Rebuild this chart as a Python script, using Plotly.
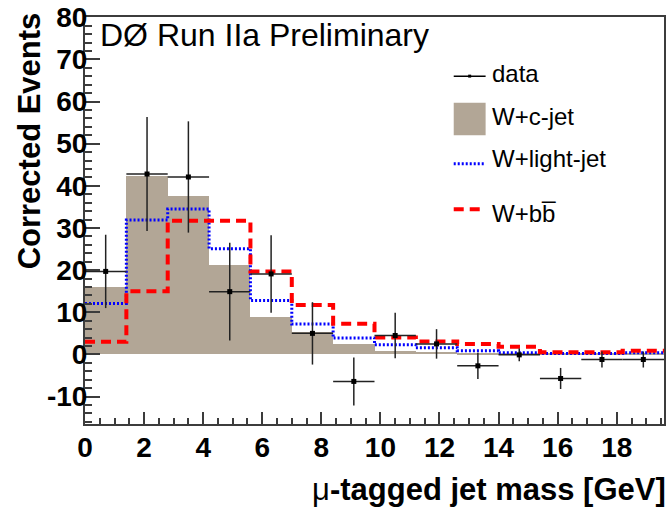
import plotly.graph_objects as go

# ---- data ----
bin_width = 1.4
bin_edges = [0.0, 1.4, 2.8, 4.2, 5.6, 7.0, 8.4, 9.8, 11.2, 12.6, 14.0, 15.4, 16.8, 18.2, 19.6]
bin_centers = [0.7, 2.1, 3.5, 4.9, 6.3, 7.7, 9.1, 10.5, 11.9, 13.3, 14.7, 16.1, 17.5, 18.9]

data_values = [19.7, 42.8, 42.1, 14.9, 19.1, 5.0, -6.4, 4.5, 2.5, -2.7, -0.1, -5.7, -1.2, -1.2]
data_errors = [8.7, 13.5, 13.2, 11.6, 9.2, 7.4, 5.7, 5.4, 3.5, 3.1, 1.5, 2.5, 1.9, 1.9]

wc_values = [16.0, 42.4, 37.6, 21.2, 8.8, 5.3, 2.5, 0.9, 0.6, 0.4, 0.2, 0.2, 0.2, 0.2]
wlight_values = [12.1, 31.9, 34.5, 25.1, 12.8, 7.2, 3.9, 2.3, 1.6, 0.9, 0.4, 0.2, 0.2, 0.4]
wbb_values = [3.0, 15.0, 31.7, 31.7, 19.7, 11.7, 7.3, 4.0, 3.1, 2.5, 1.8, 0.5, 0.5, 0.9]

x_tick_vals = [0, 2, 4, 6, 8, 10, 12, 14, 16, 18]
y_tick_vals = [-10, 0, 10, 20, 30, 40, 50, 60, 70, 80]

legend_labels = ["data", "W+c-jet", "W+light-jet", "W+bb\u0305"]

# ---- styles ----
FONT = "Liberation Sans, Arial, sans-serif"
TAN = "rgb(178,166,150)"
BLUE = "#0000ff"
RED = "#ff0000"
FRAME = "#3c3c3c"

W, H = 668, 518
ML, MR, MT, MB = 85, 2, 11, 94
PW, PH = W - ML - MR, H - MT - MB


def pxx(xp):
    return (xp - ML) / PW


def pxy(yp):
    return (H - MB - yp) / PH


fig = go.Figure()

# W+c-jet filled histogram
fig.add_trace(go.Bar(
    x=bin_centers, y=wc_values, width=bin_width,
    marker=dict(color=TAN, line=dict(width=0)),
    showlegend=False, hoverinfo="skip",
))

# W+light-jet dotted step
fig.add_trace(go.Scatter(
    x=bin_edges, y=wlight_values + [wlight_values[-1]],
    mode="lines", line=dict(color=BLUE, width=3, dash="2px,2px", shape="hv"),
    showlegend=False,
))

# W+bb dashed step
fig.add_trace(go.Scatter(
    x=bin_edges, y=wbb_values + [wbb_values[-1]],
    mode="lines", line=dict(color=RED, width=4, dash="10px,6px", shape="hv"),
    showlegend=False,
))

# data points
fig.add_trace(go.Scatter(
    x=bin_centers, y=data_values, mode="markers",
    marker=dict(symbol="square", size=5, color="black"),
    error_y=dict(type="data", array=data_errors, width=0, thickness=1.5, color="#222222"),
    error_x=dict(type="constant", value=bin_width / 2, width=0, thickness=1.5, color="#222222"),
    showlegend=False,
))

shapes = []
annotations = []

# manual legend (ROOT style)
sx0, sx1 = 455, 487
shapes.append(dict(type="line", xref="paper", yref="paper",
                   x0=pxx(sx0), x1=pxx(sx1), y0=pxy(71), y1=pxy(71),
                   line=dict(color="black", width=1.5)))
shapes.append(dict(type="rect", xref="paper", yref="paper",
                   x0=pxx(469.5), x1=pxx(472.5), y0=pxy(72.5), y1=pxy(69.5),
                   fillcolor="black", line=dict(width=0)))
shapes.append(dict(type="rect", xref="paper", yref="paper",
                   x0=pxx(sx0), x1=pxx(sx1), y0=pxy(131), y1=pxy(98),
                   fillcolor=TAN, line=dict(width=0)))
shapes.append(dict(type="line", xref="paper", yref="paper",
                   x0=pxx(sx0), x1=pxx(sx1), y0=pxy(160), y1=pxy(160),
                   line=dict(color=BLUE, width=3, dash="2px,2px")))
shapes.append(dict(type="line", xref="paper", yref="paper",
                   x0=pxx(sx0), x1=pxx(sx1), y0=pxy(206), y1=pxy(206),
                   line=dict(color=RED, width=4, dash="10px,6px")))

legend_text_y = [68, 112, 155, 210]
for label, ty in zip(legend_labels, legend_text_y):
    annotations.append(dict(
        text=label, xref="paper", yref="paper", x=pxx(491), y=pxy(ty),
        xanchor="left", yanchor="middle", showarrow=False,
        font=dict(family=FONT, size=24, color="black"),
    ))

# header text
annotations.append(dict(
    text="DØ Run IIa Preliminary", xref="paper", yref="paper",
    x=pxx(98), y=pxy(29), xanchor="left", yanchor="middle", showarrow=False,
    font=dict(family=FONT, size=32, color="black"),
))

# axis titles
annotations.append(dict(
    text="<b>Corrected Events</b>", xref="paper", yref="paper",
    x=pxx(29), y=pxy(137), xanchor="center", yanchor="middle", showarrow=False,
    textangle=-90, font=dict(family=FONT, size=31, color="black"),
))
annotations.append(dict(
    text="μ<b>-tagged jet mass [GeV]</b>", xref="paper", yref="paper",
    x=1.0, y=pxy(490), xanchor="right", yanchor="middle", showarrow=False,
    xshift=4, font=dict(family=FONT, size=31, color="black"),
))

fig.update_layout(
    width=W, height=H,
    margin=dict(l=ML, r=MR, t=MT, b=MB, pad=0),
    paper_bgcolor="white", plot_bgcolor="white",
    bargap=0, barmode="overlay",
    shapes=shapes, annotations=annotations,
    font=dict(family=FONT, color="black"),
)

fig.update_xaxes(
    range=[0, 19.6], tickvals=x_tick_vals, ticktext=[str(v) for v in x_tick_vals],
    ticks="inside", ticklen=12, tickwidth=1.5, tickcolor=FRAME,
    minor=dict(ticks="inside", ticklen=6, dtick=0.5, tickwidth=1.5, tickcolor=FRAME),
    showline=True, linecolor=FRAME, linewidth=2, mirror=True,
    showgrid=False, zeroline=False,
    tickfont=dict(family=FONT, size=28, color="black", weight="bold"),
    ticklabelstandoff=-3, ticklabeloverflow="allow",
)
fig.update_yaxes(
    range=[-16.5, 80.05], tickvals=y_tick_vals, ticktext=[str(v) for v in y_tick_vals],
    ticks="inside", ticklen=15, tickwidth=1.5, tickcolor=FRAME,
    minor=dict(ticks="inside", ticklen=7, dtick=2, tickwidth=1.5, tickcolor=FRAME),
    showline=True, linecolor=FRAME, linewidth=2, mirror=True,
    showgrid=False, zeroline=False,
    tickfont=dict(family=FONT, size=28, color="black", weight="bold"),
    ticklabelstandoff=-10, ticklabeloverflow="allow",
)

fig.write_html(
    "out.html",
    config={"displayModeBar": False},
    post_script="document.body.style.margin='0';document.body.style.overflow='hidden';",
)
